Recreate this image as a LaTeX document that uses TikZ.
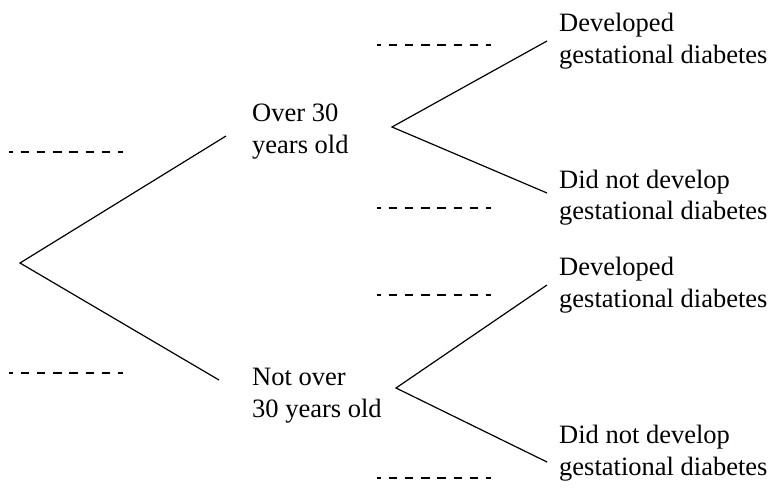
\documentclass[tikz,border=0pt]{standalone}
\usepackage{fontspec}
\setmainfont{Liberation Serif}

\tikzset{
  branch/.style={line width=1.2pt},
  blank/.style={line width=1.3pt, dash pattern=on 8.5pt off 7.7pt, dash phase=4.5pt},
  outcome/.style={anchor=base west, align=left, inner sep=0pt, font=\fontsize{26.5}{32}\selectfont},
}

\begin{document}
\begin{tikzpicture}[x=1pt, y=-1pt]
\useasboundingbox (0, 0) rectangle (771, 489);

% branch points
\coordinate (root) at (20, 263);
\coordinate (over-end) at (226, 136);
\coordinate (notover-end) at (219, 380);
\coordinate (over) at (392, 127);
\coordinate (notover) at (396, 388);
\coordinate (over-dev) at (547, 41);
\coordinate (over-nodev) at (547, 193);
\coordinate (notover-dev) at (547, 285);
\coordinate (notover-nodev) at (547, 462);

% labels (base = baseline of the last line)
\node at (252, 154) [outcome] (A) {Over 30\\years old};
\node at (252, 417) [outcome] (B) {Not over\\30 years old};
\node at (559, 64) [outcome] (AD) {Developed\\gestational diabetes};
\node at (559, 220) [outcome] (AN) {Did not develop\\gestational diabetes};
\node at (559, 307) [outcome] (BD) {Developed\\gestational diabetes};
\node at (559, 475) [outcome] (BN) {Did not develop\\gestational diabetes};

% tree
\draw[branch] (over-end) -- (root) -- (notover-end);
\draw[branch] (over-dev) -- (over) -- (over-nodev);
\draw[branch] (notover-dev) -- (notover) -- (notover-nodev);

% blanks for the probabilities
\draw[blank] (9, 152) -- (123, 152);
\draw[blank] (9, 373) -- (123, 373);
\draw[blank] (377, 45) -- (491, 45);
\draw[blank] (377, 208) -- (491, 208);
\draw[blank] (377, 295) -- (491, 295);
\draw[blank] (377, 478) -- (491, 478);
\end{tikzpicture}
\end{document}
